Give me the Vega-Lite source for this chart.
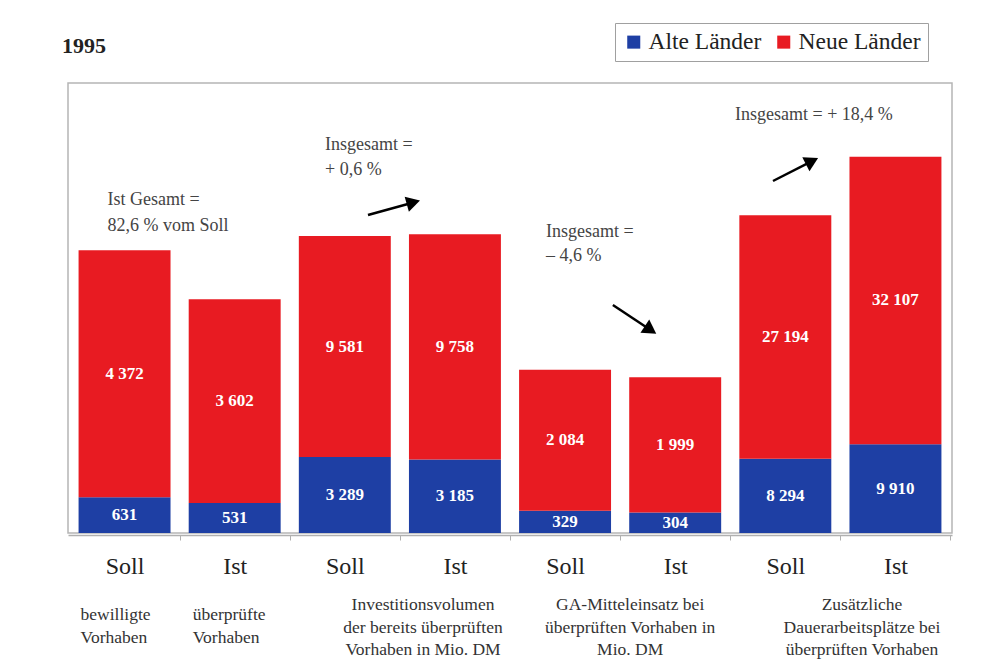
{
  "$schema": "https://vega.github.io/schema/vega-lite/v6.json",
  "width": 884,
  "height": 450,
  "autosize": {"type": "none"},
  "padding": {"left": 68, "top": 83, "right": 45, "bottom": 131},
  "background": "white",
  "title": {"text": "1995", "anchor": "start", "frame": "group", "fontSize": 22, "fontWeight": "bold", "font": "Liberation Serif", "color": "#222222", "offset": 30, "dx": -6, "dy": 82, "baseline": "alphabetic"},
  "data": {"values": [
    {"g": 1, "bar": "1 Soll", "series": "Alte Länder", "value": 631},
    {"g": 1, "bar": "1 Soll", "series": "Neue Länder", "value": 4372},
    {"g": 1, "bar": "2 Ist", "series": "Alte Länder", "value": 531},
    {"g": 1, "bar": "2 Ist", "series": "Neue Länder", "value": 3602},
    {"g": 2, "bar": "3 Soll", "series": "Alte Länder", "value": 3289},
    {"g": 2, "bar": "3 Soll", "series": "Neue Länder", "value": 9581},
    {"g": 2, "bar": "4 Ist", "series": "Alte Länder", "value": 3185},
    {"g": 2, "bar": "4 Ist", "series": "Neue Länder", "value": 9758},
    {"g": 3, "bar": "5 Soll", "series": "Alte Länder", "value": 329},
    {"g": 3, "bar": "5 Soll", "series": "Neue Länder", "value": 2084},
    {"g": 3, "bar": "6 Ist", "series": "Alte Länder", "value": 304},
    {"g": 3, "bar": "6 Ist", "series": "Neue Länder", "value": 1999},
    {"g": 4, "bar": "7 Soll", "series": "Alte Länder", "value": 8294},
    {"g": 4, "bar": "7 Soll", "series": "Neue Länder", "value": 27194},
    {"g": 4, "bar": "8 Ist", "series": "Alte Länder", "value": 9910},
    {"g": 4, "bar": "8 Ist", "series": "Neue Länder", "value": 32107}
  ]},
  "resolve": {"scale": {"y": "independent"}, "axis": {"y": "independent"}},
  "layer": [
    {
      "layer": [
        {
          "transform": [{"filter": "datum.g == 1"}, {"stack": "value", "groupby": ["bar"], "sort": [{"field": "series"}], "as": ["y0", "y1"]}],
          "mark": {"type": "bar"},
          "encoding": {
            "x": {"field": "bar", "type": "nominal", "title": null, "scale": {"domain": ["1 Soll", "2 Ist", "3 Soll", "4 Ist", "5 Soll", "6 Ist", "7 Soll", "8 Ist"], "paddingInner": 0.165, "paddingOuter": 0.096}, "axis": {"labelExpr": "split(datum.label, ' ')[1]", "tickOffset": 55, "labelOffset": -55}},
            "y": {"field": "y0", "type": "quantitative", "scale": {"domain": [0, 7960], "nice": false}, "axis": null},
            "y2": {"field": "y1"},
            "color": {"field": "series", "type": "nominal", "scale": {"domain": ["Alte Länder", "Neue Länder"], "range": ["#1e3fa4", "#e81b22"]},
              "legend": {"orient": "none", "legendX": 547, "legendY": -60, "direction": "horizontal", "title": null, "symbolType": "square", "symbolSize": 170, "symbolStrokeWidth": 0, "symbolOpacity": 1, "labelFontSize": 23.5, "labelFont": "Liberation Serif", "labelColor": "#222222", "padding": 7, "strokeColor": "#a0a0a0", "fillColor": "white", "columnPadding": 10, "labelOffset": 3}}
          }
        },
        {
          "transform": [{"filter": "datum.g == 1"}, {"stack": "value", "groupby": ["bar"], "sort": [{"field": "series"}], "as": ["y0", "y1"]}, {"calculate": "(datum.y0 + datum.y1) / 2", "as": "ymid"}],
          "mark": {"type": "text", "color": "white", "fontWeight": "bold", "fontSize": 17, "font": "Liberation Serif", "baseline": "middle"},
          "encoding": {
            "x": {"field": "bar", "type": "nominal", "title": null, "scale": {"domain": ["1 Soll", "2 Ist", "3 Soll", "4 Ist", "5 Soll", "6 Ist", "7 Soll", "8 Ist"]}},
            "y": {"field": "ymid", "type": "quantitative", "scale": {"domain": [0, 7960], "nice": false}, "axis": null},
            "text": {"field": "value", "type": "quantitative", "format": ","}
          }
        },
        {
          "data": {"values": [{}]},
          "mark": {"type": "text", "text": "Ist Gesamt =\n82,6 % vom Soll", "lineBreak": "\n", "lineHeight": 26, "align": "left", "baseline": "middle", "fontSize": 18, "font": "Liberation Serif", "color": "#444444"},
          "encoding": {
            "x": {"datum": "1 Soll", "type": "nominal", "bandPosition": 0.315, "title": null, "scale": {"domain": ["1 Soll", "2 Ist", "3 Soll", "4 Ist", "5 Soll", "6 Ist", "7 Soll", "8 Ist"]}},
            "y": {"datum": 5890, "type": "quantitative", "scale": {"domain": [0, 7960], "nice": false}, "axis": null}
          }
        },
        {
          "data": {"values": [{}]},
          "mark": {"type": "text", "text": "bewilligte\nVorhaben", "lineBreak": "\n", "lineHeight": 22.5, "align": "left", "baseline": "middle", "dx": 2, "dy": 82, "fontSize": 17.5, "font": "Liberation Serif", "color": "#333333"},
          "encoding": {
            "x": {"datum": "1 Soll", "type": "nominal", "bandPosition": 0, "title": null, "scale": {"domain": ["1 Soll", "2 Ist", "3 Soll", "4 Ist", "5 Soll", "6 Ist", "7 Soll", "8 Ist"]}},
            "y": {"datum": 0, "type": "quantitative", "scale": {"domain": [0, 7960], "nice": false}, "axis": null}
          }
        },
        {
          "data": {"values": [{}]},
          "mark": {"type": "text", "text": "überprüfte\nVorhaben", "lineBreak": "\n", "lineHeight": 22.5, "align": "left", "baseline": "middle", "dx": 4, "dy": 82, "fontSize": 17.5, "font": "Liberation Serif", "color": "#333333"},
          "encoding": {
            "x": {"datum": "2 Ist", "type": "nominal", "bandPosition": 0, "title": null, "scale": {"domain": ["1 Soll", "2 Ist", "3 Soll", "4 Ist", "5 Soll", "6 Ist", "7 Soll", "8 Ist"]}},
            "y": {"datum": 0, "type": "quantitative", "scale": {"domain": [0, 7960], "nice": false}, "axis": null}
          }
        }
      ]
    },
    {
      "layer": [
        {
          "transform": [{"filter": "datum.g == 2"}, {"stack": "value", "groupby": ["bar"], "sort": [{"field": "series"}], "as": ["y0", "y1"]}],
          "mark": {"type": "bar"},
          "encoding": {
            "x": {"field": "bar", "type": "nominal", "title": null, "scale": {"domain": ["1 Soll", "2 Ist", "3 Soll", "4 Ist", "5 Soll", "6 Ist", "7 Soll", "8 Ist"]}},
            "y": {"field": "y0", "type": "quantitative", "scale": {"domain": [0, 19500], "nice": false}, "axis": null},
            "y2": {"field": "y1"},
            "color": {"field": "series", "type": "nominal", "scale": {"domain": ["Alte Länder", "Neue Länder"], "range": ["#1e3fa4", "#e81b22"]}}
          }
        },
        {
          "transform": [{"filter": "datum.g == 2"}, {"stack": "value", "groupby": ["bar"], "sort": [{"field": "series"}], "as": ["y0", "y1"]}, {"calculate": "(datum.y0 + datum.y1) / 2", "as": "ymid"}],
          "mark": {"type": "text", "color": "white", "fontWeight": "bold", "fontSize": 17, "font": "Liberation Serif", "baseline": "middle"},
          "encoding": {
            "x": {"field": "bar", "type": "nominal", "title": null, "scale": {"domain": ["1 Soll", "2 Ist", "3 Soll", "4 Ist", "5 Soll", "6 Ist", "7 Soll", "8 Ist"]}},
            "y": {"field": "ymid", "type": "quantitative", "scale": {"domain": [0, 19500], "nice": false}, "axis": null},
            "text": {"field": "value", "type": "quantitative", "format": ","}
          }
        },
        {
          "data": {"values": [{}]},
          "mark": {"type": "text", "text": "Insgesamt =\n+ 0,6 %", "lineBreak": "\n", "lineHeight": 25, "align": "left", "baseline": "middle", "fontSize": 18, "font": "Liberation Serif", "color": "#444444"},
          "encoding": {
            "x": {"datum": "3 Soll", "type": "nominal", "bandPosition": 0.285, "title": null, "scale": {"domain": ["1 Soll", "2 Ist", "3 Soll", "4 Ist", "5 Soll", "6 Ist", "7 Soll", "8 Ist"]}},
            "y": {"datum": 16813, "type": "quantitative", "scale": {"domain": [0, 19500], "nice": false}, "axis": null}
          }
        },
        {
          "data": {"values": [{}]},
          "mark": {"type": "rule", "color": "black", "strokeWidth": 2.5},
          "encoding": {
            "x": {"datum": "3 Soll", "type": "nominal", "bandPosition": 0.752, "title": null, "scale": {"domain": ["1 Soll", "2 Ist", "3 Soll", "4 Ist", "5 Soll", "6 Ist", "7 Soll", "8 Ist"]}},
            "x2": {"datum": "4 Ist", "bandPosition": 0.048},
            "y": {"datum": 13780, "type": "quantitative", "scale": {"domain": [0, 19500], "nice": false}, "axis": null},
            "y2": {"datum": 14325}
          }
        },
        {
          "data": {"values": [{}]},
          "mark": {"type": "point", "shape": "triangle-up", "filled": true, "color": "black", "opacity": 1, "size": 250, "angle": 74.5},
          "encoding": {
            "x": {"datum": "4 Ist", "type": "nominal", "bandPosition": 0.048, "title": null, "scale": {"domain": ["1 Soll", "2 Ist", "3 Soll", "4 Ist", "5 Soll", "6 Ist", "7 Soll", "8 Ist"]}},
            "y": {"datum": 14325, "type": "quantitative", "scale": {"domain": [0, 19500], "nice": false}, "axis": null}
          }
        },
        {
          "data": {"values": [{}]},
          "mark": {"type": "text", "text": "Investitionsvolumen\nder bereits überprüften\nVorhaben in Mio. DM", "lineBreak": "\n", "lineHeight": 22.5, "align": "center", "baseline": "middle", "dy": 72, "fontSize": 17.5, "font": "Liberation Serif", "color": "#333333"},
          "encoding": {
            "x": {"datum": "4 Ist", "type": "nominal", "bandPosition": 0.153, "title": null, "scale": {"domain": ["1 Soll", "2 Ist", "3 Soll", "4 Ist", "5 Soll", "6 Ist", "7 Soll", "8 Ist"]}},
            "y": {"datum": 0, "type": "quantitative", "scale": {"domain": [0, 19500], "nice": false}, "axis": null}
          }
        }
      ]
    },
    {
      "layer": [
        {
          "transform": [{"filter": "datum.g == 3"}, {"stack": "value", "groupby": ["bar"], "sort": [{"field": "series"}], "as": ["y0", "y1"]}],
          "mark": {"type": "bar"},
          "encoding": {
            "x": {"field": "bar", "type": "nominal", "title": null, "scale": {"domain": ["1 Soll", "2 Ist", "3 Soll", "4 Ist", "5 Soll", "6 Ist", "7 Soll", "8 Ist"]}},
            "y": {"field": "y0", "type": "quantitative", "scale": {"domain": [0, 6650], "nice": false}, "axis": null},
            "y2": {"field": "y1"},
            "color": {"field": "series", "type": "nominal", "scale": {"domain": ["Alte Länder", "Neue Länder"], "range": ["#1e3fa4", "#e81b22"]}}
          }
        },
        {
          "transform": [{"filter": "datum.g == 3"}, {"stack": "value", "groupby": ["bar"], "sort": [{"field": "series"}], "as": ["y0", "y1"]}, {"calculate": "(datum.y0 + datum.y1) / 2", "as": "ymid"}],
          "mark": {"type": "text", "color": "white", "fontWeight": "bold", "fontSize": 17, "font": "Liberation Serif", "baseline": "middle"},
          "encoding": {
            "x": {"field": "bar", "type": "nominal", "title": null, "scale": {"domain": ["1 Soll", "2 Ist", "3 Soll", "4 Ist", "5 Soll", "6 Ist", "7 Soll", "8 Ist"]}},
            "y": {"field": "ymid", "type": "quantitative", "scale": {"domain": [0, 6650], "nice": false}, "axis": null},
            "text": {"field": "value", "type": "quantitative", "format": ","}
          }
        },
        {
          "data": {"values": [{}]},
          "mark": {"type": "text", "text": "Insgesamt =\n– 4,6 %", "lineBreak": "\n", "lineHeight": 24, "align": "left", "baseline": "middle", "fontSize": 18, "font": "Liberation Serif", "color": "#444444"},
          "encoding": {
            "x": {"datum": "5 Soll", "type": "nominal", "bandPosition": 0.292, "title": null, "scale": {"domain": ["1 Soll", "2 Ist", "3 Soll", "4 Ist", "5 Soll", "6 Ist", "7 Soll", "8 Ist"]}},
            "y": {"datum": 4448, "type": "quantitative", "scale": {"domain": [0, 6650], "nice": false}, "axis": null}
          }
        },
        {
          "data": {"values": [{}]},
          "mark": {"type": "rule", "color": "black", "strokeWidth": 2.5},
          "encoding": {
            "x": {"datum": "5 Soll", "type": "nominal", "bandPosition": 1.02, "title": null, "scale": {"domain": ["1 Soll", "2 Ist", "3 Soll", "4 Ist", "5 Soll", "6 Ist", "7 Soll", "8 Ist"]}},
            "x2": {"datum": "6 Ist", "bandPosition": 0.232},
            "y": {"datum": 3370, "type": "quantitative", "scale": {"domain": [0, 6650], "nice": false}, "axis": null},
            "y2": {"datum": 3000}
          }
        },
        {
          "data": {"values": [{}]},
          "mark": {"type": "point", "shape": "triangle-up", "filled": true, "color": "black", "opacity": 1, "size": 250, "angle": 123.7},
          "encoding": {
            "x": {"datum": "6 Ist", "type": "nominal", "bandPosition": 0.232, "title": null, "scale": {"domain": ["1 Soll", "2 Ist", "3 Soll", "4 Ist", "5 Soll", "6 Ist", "7 Soll", "8 Ist"]}},
            "y": {"datum": 3000, "type": "quantitative", "scale": {"domain": [0, 6650], "nice": false}, "axis": null}
          }
        },
        {
          "data": {"values": [{}]},
          "mark": {"type": "text", "text": "GA-Mitteleinsatz bei\nüberprüften Vorhaben in\nMio. DM", "lineBreak": "\n", "lineHeight": 22.5, "align": "center", "baseline": "middle", "dy": 72, "fontSize": 17.5, "font": "Liberation Serif", "color": "#333333"},
          "encoding": {
            "x": {"datum": "6 Ist", "type": "nominal", "bandPosition": 0.01, "title": null, "scale": {"domain": ["1 Soll", "2 Ist", "3 Soll", "4 Ist", "5 Soll", "6 Ist", "7 Soll", "8 Ist"]}},
            "y": {"datum": 0, "type": "quantitative", "scale": {"domain": [0, 6650], "nice": false}, "axis": null}
          }
        }
      ]
    },
    {
      "layer": [
        {
          "transform": [{"filter": "datum.g == 4"}, {"stack": "value", "groupby": ["bar"], "sort": [{"field": "series"}], "as": ["y0", "y1"]}],
          "mark": {"type": "bar"},
          "encoding": {
            "x": {"field": "bar", "type": "nominal", "title": null, "scale": {"domain": ["1 Soll", "2 Ist", "3 Soll", "4 Ist", "5 Soll", "6 Ist", "7 Soll", "8 Ist"]}},
            "y": {"field": "y0", "type": "quantitative", "scale": {"domain": [0, 50250], "nice": false}, "axis": null},
            "y2": {"field": "y1"},
            "color": {"field": "series", "type": "nominal", "scale": {"domain": ["Alte Länder", "Neue Länder"], "range": ["#1e3fa4", "#e81b22"]}}
          }
        },
        {
          "transform": [{"filter": "datum.g == 4"}, {"stack": "value", "groupby": ["bar"], "sort": [{"field": "series"}], "as": ["y0", "y1"]}, {"calculate": "(datum.y0 + datum.y1) / 2", "as": "ymid"}],
          "mark": {"type": "text", "color": "white", "fontWeight": "bold", "fontSize": 17, "font": "Liberation Serif", "baseline": "middle"},
          "encoding": {
            "x": {"field": "bar", "type": "nominal", "title": null, "scale": {"domain": ["1 Soll", "2 Ist", "3 Soll", "4 Ist", "5 Soll", "6 Ist", "7 Soll", "8 Ist"]}},
            "y": {"field": "ymid", "type": "quantitative", "scale": {"domain": [0, 50250], "nice": false}, "axis": null},
            "text": {"field": "value", "type": "quantitative", "format": ","}
          }
        },
        {
          "data": {"values": [{}]},
          "mark": {"type": "text", "text": "Insgesamt = + 18,4 %", "align": "left", "baseline": "middle", "fontSize": 18, "font": "Liberation Serif", "color": "#444444"},
          "encoding": {
            "x": {"datum": "7 Soll", "type": "nominal", "bandPosition": -0.047, "title": null, "scale": {"domain": ["1 Soll", "2 Ist", "3 Soll", "4 Ist", "5 Soll", "6 Ist", "7 Soll", "8 Ist"]}},
            "y": {"datum": 46677, "type": "quantitative", "scale": {"domain": [0, 50250], "nice": false}, "axis": null}
          }
        },
        {
          "data": {"values": [{}]},
          "mark": {"type": "rule", "color": "black", "strokeWidth": 2.5},
          "encoding": {
            "x": {"datum": "7 Soll", "type": "nominal", "bandPosition": 0.366, "title": null, "scale": {"domain": ["1 Soll", "2 Ist", "3 Soll", "4 Ist", "5 Soll", "6 Ist", "7 Soll", "8 Ist"]}},
            "x2": {"datum": "7 Soll", "bandPosition": 0.79},
            "y": {"datum": 39307, "type": "quantitative", "scale": {"domain": [0, 50250], "nice": false}, "axis": null},
            "y2": {"datum": 41530}
          }
        },
        {
          "data": {"values": [{}]},
          "mark": {"type": "point", "shape": "triangle-up", "filled": true, "color": "black", "opacity": 1, "size": 250, "angle": 63},
          "encoding": {
            "x": {"datum": "7 Soll", "type": "nominal", "bandPosition": 0.79, "title": null, "scale": {"domain": ["1 Soll", "2 Ist", "3 Soll", "4 Ist", "5 Soll", "6 Ist", "7 Soll", "8 Ist"]}},
            "y": {"datum": 41530, "type": "quantitative", "scale": {"domain": [0, 50250], "nice": false}, "axis": null}
          }
        },
        {
          "data": {"values": [{}]},
          "mark": {"type": "text", "text": "Zusätzliche\nDauerarbeitsplätze bei\nüberprüften Vorhaben", "lineBreak": "\n", "lineHeight": 22.5, "align": "center", "baseline": "middle", "dy": 72, "fontSize": 17.5, "font": "Liberation Serif", "color": "#333333"},
          "encoding": {
            "x": {"datum": "8 Ist", "type": "nominal", "bandPosition": 0.136, "title": null, "scale": {"domain": ["1 Soll", "2 Ist", "3 Soll", "4 Ist", "5 Soll", "6 Ist", "7 Soll", "8 Ist"]}},
            "y": {"datum": 0, "type": "quantitative", "scale": {"domain": [0, 50250], "nice": false}, "axis": null}
          }
        }
      ]
    }
  ],
  "config": {
    "font": "Liberation Serif",
    "view": {"stroke": "#b5b5b5", "strokeWidth": 1.5},
    "locale": {"number": {"decimal": ",", "thousands": " ", "grouping": [3], "currency": ["", " DM"]}},
    "axisX": {"domainColor": "#b0b0b0", "domainWidth": 1.5, "tickColor": "#b0b0b0", "tickSize": 5, "labelFontSize": 24, "labelFont": "Liberation Serif", "labelColor": "#222222", "labelPadding": 14, "labelAngle": 0, "offset": 2}
  }
}
